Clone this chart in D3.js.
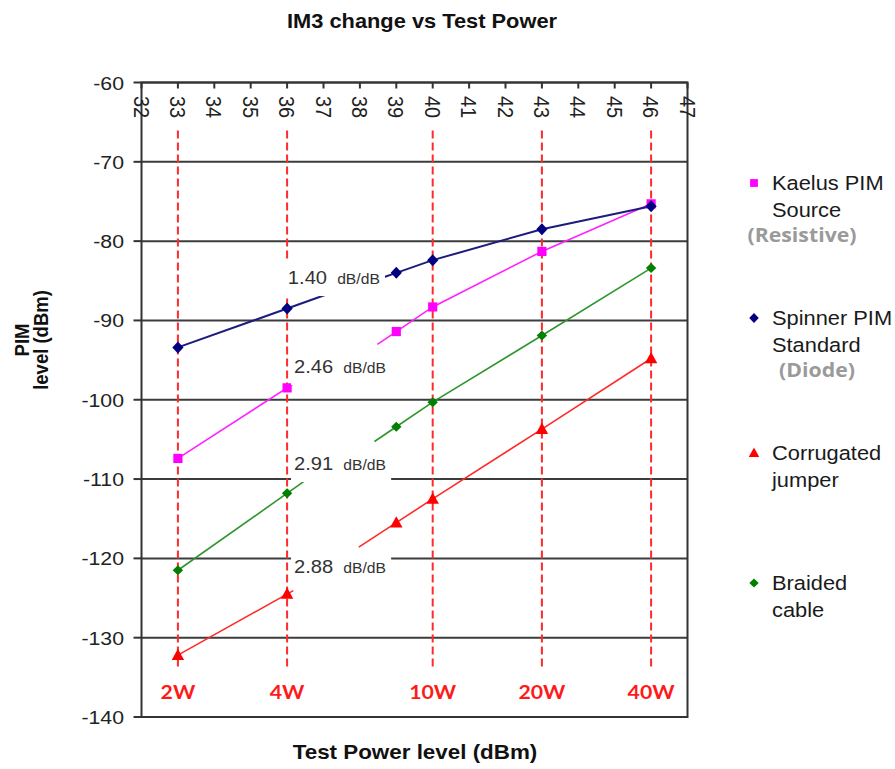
<!DOCTYPE html>
<html><head><meta charset="utf-8">
<script src="https://cdn.jsdelivr.net/npm/d3@7"></script>
<style>html,body{margin:0;padding:0;background:#fff}</style>
</head><body><svg id="c" width="895" height="769"></svg>
<script>
// ---------- data ----------
const powers = [33, 36, 39, 40, 43, 46];                 // test power, dBm
const kaelus = [-107.4, -98.5, -91.4, -88.3, -81.3, -75.3];
const spinner = [-93.4, -88.5, -84.0, -82.4, -78.5, -75.6];
const corrugated = [-132.2, -124.5, -115.5, -112.5, -103.7, -94.8];
const braided = [-121.5, -111.8, -103.4, -100.3, -91.9, -83.4];
const seriesKeys = ["kaelus", "spinner", "corrugated", "braided"];
const legendLines = [["Kaelus PIM", "Source"], ["Spinner PIM", "Standard"], ["Corrugated", "jumper"], ["Braided", "cable"]];
const legendNotes = ["(Resistive)", "(Diode)", "", ""];
const slopes = ["2.46", "1.40", "2.88", "2.91"];
const slopeUnit = "dB/dB";
const leftFitEnd = [36.33, 37.06, 36.17, 36.62];
const rightFitStart = [38.48, 38.65, 37.97, 38.4];
const wattPowers = [33, 36, 40, 43, 46];
const wattLabels = ["2W", "4W", "10W", "20W", "40W"];
const xTicks = d3.range(32, 48);
const yTicks = d3.range(-140, -59, 10);
const title = "IM3 change vs Test Power";
const xTitle = "Test Power level (dBm)";
const yTitle = ["PIM", "level (dBm)"];

// ---------- layout / style ----------
const SX = 1.12;
const ARIAL = '"Liberation Sans", Arial, sans-serif';
const colors = { kaelus: "#ff00ff", spinner: "#000080", corrugated: "#ff0000", braided: "#008000" };
const lineColors = { kaelus: "#ff22ff", spinner: "#1c1c7c", corrugated: "#ff2a2a", braided: "#2e962e" };
const slopeLabelAt = [{ x: 36.19, v: -96.63 }, { x: 36.02, v: -85.41 }, { x: 36.19, v: -121.85 }, { x: 36.19, v: -108.86 }];
const legendY = [183, 318, 453, 583];

const seriesVals = { kaelus, spinner, corrugated, braided };

const svg = d3.select("#c");
const x = d3.scaleLinear().domain([32, 47]).range([141.5, 687.5]);
const y = d3.scaleLinear().domain([-140, -60]).range([717, 82.5]);

function sText(parent, px, py, str, font, anchor, fill, extra) {
  const g = parent.append("g").attr("transform", `translate(${px},${py}) scale(${SX},1)` + (extra || ""));
  const t = g.append("text").attr("text-anchor", anchor).attr("fill", fill).style("font", font).text(str);
  return { g, t };
}

function markerPath(key, s) {
  s = s || 1;
  if (key === "kaelus") { const h = 4.6 * s; return `M${-h},${-h}H${h}V${h}H${-h}Z`; }
  if (key === "spinner") { const w = 5.6 * s, h = 6 * s; return `M0,${-h}L${w},0L0,${h}L${-w},0Z`; }
  if (key === "corrugated") { const w = 6.2 * s; return `M0,${-6.5 * s}L${w},${4.8 * s}L${-w},${4.8 * s}Z`; }
  const w = 5.2 * s, h = 5 * s; return `M0,${-h}L${w},0L0,${h}L${-w},0Z`;
}

// ---------- gridlines ----------
const grid = svg.append("g");
grid.selectAll("line").data(yTicks).join("line")
  .attr("x1", x(32)).attr("x2", x(47)).attr("y1", d => y(d)).attr("y2", d => y(d))
  .attr("stroke", "#3c3c3c").attr("stroke-width", 2);

// ---------- red dashed power markers ----------
const dash = svg.append("g");
dash.selectAll("line").data(wattPowers).join("line")
  .attr("x1", d => x(d)).attr("x2", d => x(d))
  .attr("y1", y(-60) + 48).attr("y2", y(-140) - 50)
  .attr("stroke", "#ff2a2a").attr("stroke-width", 2).attr("stroke-dasharray", "8,4");
wattPowers.forEach((p, i) => {
  sText(svg, x(p), 699, wattLabels[i], 'bold 19px Lato, "Open Sans", sans-serif', "middle", "#ff1a1a");
});

// ---------- series lines ----------
const line = d3.line().x(d => x(d[0])).y(d => y(d[1]));
const lineLayer = svg.append("g").attr("fill", "none");
seriesKeys.forEach((k, i) => {
  const v = seriesVals[k];
  const sL = (v[1] - v[0]) / (powers[1] - powers[0]);
  const left = [[powers[0], v[0]], [leftFitEnd[i], v[1] + sL * (leftFitEnd[i] - powers[1])]];
  const sR = (v[3] - v[2]) / (powers[3] - powers[2]);
  const right = [[rightFitStart[i], v[2] + sR * (rightFitStart[i] - powers[2])]]
    .concat(powers.slice(2).map((p, j) => [p, v[j + 2]]));
  [left, right].forEach(seg => {
    lineLayer.append("path").attr("d", line(seg))
      .attr("stroke", lineColors[k]).attr("stroke-width", k === "spinner" ? 2 : 1.6);
  });
});

// ---------- markers ----------
const mk = svg.append("g");
seriesKeys.forEach(k => {
  mk.selectAll(null).data(powers.map((p, j) => [p, seriesVals[k][j]])).join("path")
    .attr("d", markerPath(k)).attr("fill", colors[k])
    .attr("transform", d => `translate(${x(d[0])},${y(d[1])})`);
});

// ---------- slope labels with white boxes ----------
const lab = svg.append("g");
seriesKeys.forEach((k, i) => {
  const px = x(slopeLabelAt[i].x), py = y(slopeLabelAt[i].v);
  const box = lab.append("rect").attr("fill", "#fff");
  const { g, t } = sText(lab, px, py, null, `18px ${ARIAL}`, "start", "#333");
  t.append("tspan").text(slopes[i]);
  t.append("tspan").attr("dx", 9).style("font-size", "14px").text(slopeUnit);
  const bb = t.node().getBBox();
  box.attr("x", px + bb.x * SX - 3).attr("width", bb.width * SX + 8)
     .attr("y", py - 24).attr("height", 36);
});

// ---------- frame & axes ----------
const frame = svg.append("g").attr("stroke", "#333").attr("stroke-width", 2).attr("fill", "none");
frame.append("rect").attr("x", x(32)).attr("y", y(-60)).attr("width", x(47) - x(32)).attr("height", y(-140) - y(-60));
frame.selectAll("line.yt").data(yTicks).join("line").attr("class", "yt")
  .attr("x1", x(32) - 8).attr("x2", x(32)).attr("y1", d => y(d)).attr("y2", d => y(d));
frame.selectAll("line.xt").data(xTicks).join("line").attr("class", "xt")
  .attr("x1", d => x(d)).attr("x2", d => x(d)).attr("y1", y(-60)).attr("y2", y(-60) + 6);

yTicks.forEach(v => {
  sText(svg, 124, y(v) + 7, String(v), `19px ${ARIAL}`, "end", "#222");
});
xTicks.forEach(v => {
  const { t } = sText(svg, x(v), 96, String(v), `20px ${ARIAL}`, "start", "#222", " rotate(90)");
  t.attr("dy", "0.35em");
});

// ---------- titles ----------
sText(svg, 422, 28, title, `bold 19.5px ${ARIAL}`, "middle", "#111");
sText(svg, 415, 759, xTitle, `bold 20px ${ARIAL}`, "middle", "#111");
[22, 41].forEach((cx, i) => {
  const g = svg.append("g").attr("transform", `translate(${cx},340) scale(${SX},1) rotate(-90)`);
  g.append("text").attr("text-anchor", "middle").attr("dy", "0.35em")
    .style("font", `bold 18.5px ${ARIAL}`).attr("fill", "#111").text(yTitle[i]);
});

// ---------- legend ----------
seriesKeys.forEach((k, i) => {
  const cy = legendY[i];
  svg.append("path").attr("d", markerPath(k, k === "braided" ? 0.9 : 0.85)).attr("fill", colors[k])
    .attr("transform", `translate(754,${cy})`);
  legendLines[i].forEach((ln, j) => {
    sText(svg, 772, cy + 7 + j * 27, ln, `19.5px ${ARIAL}`, "start", "#1a1a1a");
  });
  if (legendNotes[i]) {
    sText(svg, i === 0 ? 802 : 817, cy + 59, legendNotes[i], 'bold 19px "Open Sans", sans-serif', "middle", "#9a9a9a");
  }
});
</script>
</body></html>
